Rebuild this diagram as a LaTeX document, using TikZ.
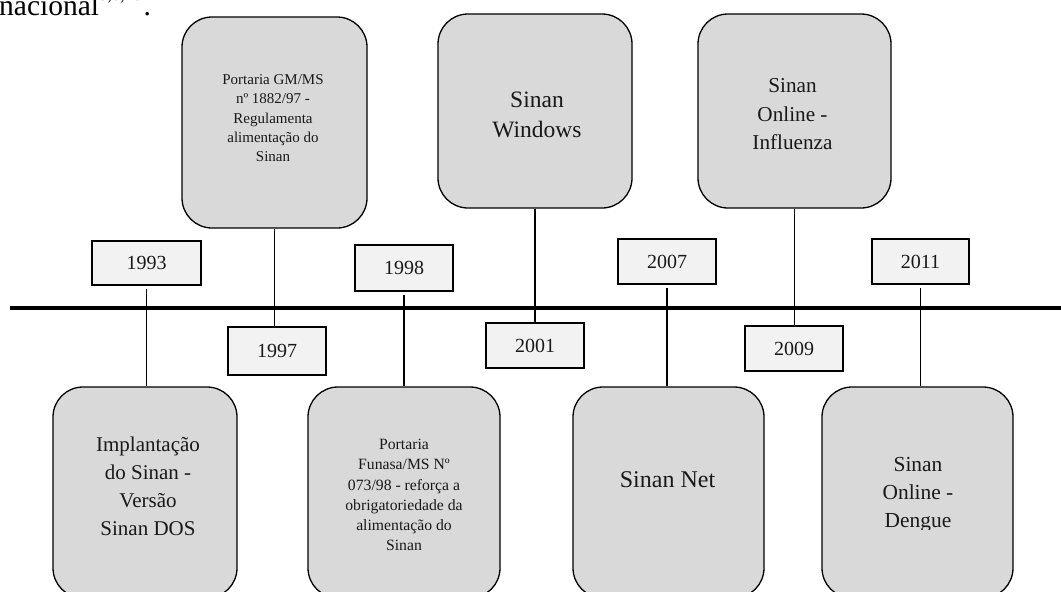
\documentclass[tikz,border=0pt]{standalone}
\usepackage{fontspec}
\setmainfont{Liberation Serif}
\definecolor{boxgray}{HTML}{D9D9D9}
\definecolor{yeargray}{HTML}{F2F2F2}
\tikzset{
  bigbox/.style={draw=black, line width=1.3pt, fill=boxgray, rounded corners=30pt, inner sep=0pt},
  boxtext/.style={align=center, inner sep=0pt, text=black!90},
  yearbox/.style={draw=black, line width=1.5pt, fill=yeargray, inner sep=0pt,
                  font=\fontsize{20}{24}\selectfont, text=black!90},
  conn/.style={line width=1.2pt, draw=black},
  timeline/.style={line width=3.5pt, draw=black}
}
\begin{document}
\begin{tikzpicture}[x=1pt,y=-1pt]
\useasboundingbox (0,0) rectangle (1061,592);

% heading fragment
\node[anchor=base west, inner sep=0pt, font=\fontsize{29.5}{31}\selectfont] (nac) at (-1,15)
  {nacional\raisebox{15pt}{\fontsize{17}{17}\selectfont 5,6,10}\kern2pt.};

% timeline
\coordinate (tlL) at (10,308);
\coordinate (tlR) at (1075,308);
\draw[timeline] (tlL) -- (tlR);

% top boxes
\node[bigbox, minimum width=185pt, minimum height=211pt] (A) at (274.5,122.5) {};
\node[bigbox, minimum width=194pt, minimum height=194pt] (B) at (535,111) {};
\node[bigbox, minimum width=193pt, minimum height=194pt] (C) at (794.5,111) {};

% bottom boxes
\node[bigbox, minimum width=184pt, minimum height=211pt] (D1) at (145,492.5) {};
\node[bigbox, minimum width=192pt, minimum height=211pt] (D2) at (404,492.5) {};
\node[bigbox, minimum width=191pt, minimum height=211pt] (D3) at (668.5,492.5) {};
\node[bigbox, minimum width=191pt, minimum height=211pt] (D4) at (917.5,492.5) {};

% texts
\node[boxtext, font=\fontsize{15}{19.3}\selectfont] (At) at (273,118.4)
  {Portaria GM/MS\\nº 1882/97 -\\Regulamenta\\alimentação do\\Sinan};
\node[boxtext, font=\fontsize{23.5}{30.5}\selectfont] (Bt) at (537,115)
  {Sinan\\Windows};
\node[boxtext, font=\fontsize{21.2}{28.5}\selectfont] (Ct) at (792.5,114.4)
  {Sinan\\Online -\\Influenza};
\node[boxtext, font=\fontsize{21}{28}\selectfont] (D1t) at (148,486)
  {Implantação\\do Sinan -\\Versão\\Sinan DOS};
\node[boxtext, font=\fontsize{15.7}{20.2}\selectfont] (D2t) at (404,495)
  {Portaria\\Funasa/MS Nº\\073/98 - reforça a\\obrigatoriedade da\\alimentação do\\Sinan};
\node[boxtext, font=\fontsize{24}{30}\selectfont] (D3t) at (667.5,480)
  {Sinan Net};
\begin{scope}
  \clip (800,380) rectangle (1040,529.5);
  \node[boxtext, font=\fontsize{21.4}{28}\selectfont] (D4t) at (918,495)
    {Sinan\\Online -\\Dengue};
\end{scope}

% year boxes
\node[yearbox, minimum width=109pt, minimum height=44pt] (y1993) at (146.5,263) {1993};
\node[yearbox, minimum width=98pt, minimum height=48pt] (y1997) at (277,351) {1997};
\node[yearbox, minimum width=98pt, minimum height=46pt] (y1998) at (404,268) {1998};
\node[yearbox, minimum width=98pt, minimum height=45pt] (y2001) at (535,345.5) {2001};
\node[yearbox, minimum width=98pt, minimum height=45pt] (y2007) at (667,261.5) {2007};
\node[yearbox, minimum width=98pt, minimum height=45pt] (y2009) at (794,348.5) {2009};
\node[yearbox, minimum width=97pt, minimum height=45pt] (y2011) at (920.5,261.5) {2011};

% connectors: top boxes down to lower year boxes
\draw[conn] (A.south) -- (A.south |- y1997.north);
\draw[conn] (B.south) -- (B.south |- y2001.north);
\draw[conn] (C.south) -- (C.south |- y2009.north);

% connectors: upper year boxes down to bottom boxes
\draw[conn] ([yshift=-3pt]y1993.south) -- (y1993.south |- D1.north);
\draw[conn] ([yshift=-3pt]y1998.south) -- (y1998.south |- D2.north);
\draw[conn] ([yshift=-3pt]y2007.south) -- (y2007.south |- D3.north);
\draw[conn] ([yshift=-3pt]y2011.south) -- (y2011.south |- D4.north);
\end{tikzpicture}
\end{document}
